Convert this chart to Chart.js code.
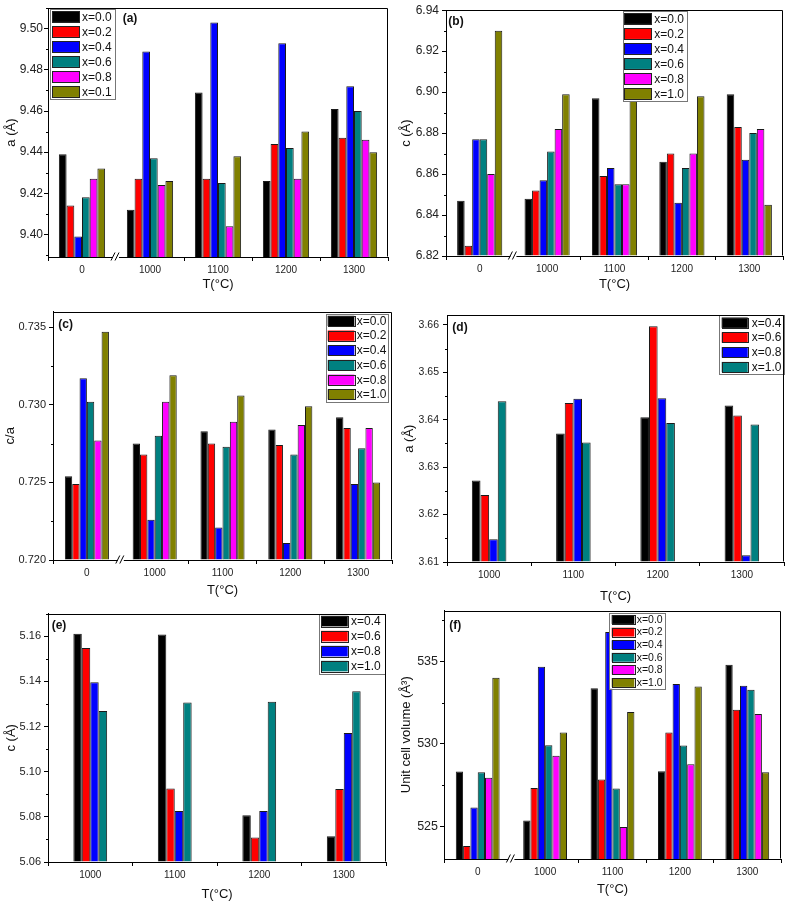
<!DOCTYPE html>
<html><head><meta charset="utf-8">
<script src="https://cdn.jsdelivr.net/npm/chart.js@4.4.0/dist/chart.umd.min.js"></script>
<style>
html,body{margin:0;padding:0;background:#fff;}
body{width:787px;height:903px;position:relative;overflow:hidden;}
canvas{position:absolute;}
</style></head><body>
<script>
// ---------- data ----------
const tempsWide = ['0', '1000', '1100', '1200', '1300'];
const tempsHigh = ['1000', '1100', '1200', '1300'];
const seriesSixA = ['x=0.0', 'x=0.2', 'x=0.4', 'x=0.6', 'x=0.8', 'x=0.1'];
const seriesSix = ['x=0.0', 'x=0.2', 'x=0.4', 'x=0.6', 'x=0.8', 'x=1.0'];
const seriesFour = ['x=0.4', 'x=0.6', 'x=0.8', 'x=1.0'];
const colorsSix = ['#000000', '#ff0000', '#0000ff', '#008080', '#ff00ff', '#808000'];
const colorsFour = ['#000000', '#ff0000', '#0000ff', '#008080'];

// (a) lattice a (Å): rows = composition, columns = temperature
const aValues = [
  [9.439, 9.412, 9.469, 9.426, 9.461],
  [9.414, 9.427, 9.427, 9.444, 9.447],
  [9.399, 9.489, 9.503, 9.493, 9.472],
  [9.418, 9.437, 9.425, 9.442, 9.460],
  [9.427, 9.424, 9.404, 9.427, 9.446],
  [9.432, 9.426, 9.438, 9.450, 9.440]
];
// (b) lattice c (Å)
const bValues = [
  [6.847, 6.848, 6.897, 6.866, 6.899],
  [6.825, 6.852, 6.859, 6.870, 6.883],
  [6.877, 6.857, 6.863, 6.846, 6.867],
  [6.877, 6.871, 6.855, 6.863, 6.880],
  [6.860, 6.882, 6.855, 6.870, 6.882],
  [6.930, 6.899, 6.896, 6.898, 6.845]
];
// (c) c/a
const cValues = [
  [0.7254, 0.7275, 0.7283, 0.7284, 0.7292],
  [0.7249, 0.7268, 0.7275, 0.7274, 0.7285],
  [0.7317, 0.7226, 0.7221, 0.7211, 0.7249],
  [0.7302, 0.7280, 0.7273, 0.7268, 0.7272],
  [0.7277, 0.7302, 0.7289, 0.7287, 0.7285],
  [0.7347, 0.7319, 0.7306, 0.7299, 0.7250]
];
// (d) a (Å)
const dValues = [
  [3.6272, 3.6371, 3.6405, 3.6430],
  [3.6241, 3.6435, 3.6597, 3.6409],
  [3.6148, 3.6444, 3.6445, 3.6114],
  [3.6439, 3.6352, 3.6393, 3.6390]
];
// (e) c (Å)
const eValues = [
  [5.1611, 5.1608, 5.0807, 5.0714],
  [5.1548, 5.0926, 5.0708, 5.0923],
  [5.1396, 5.0826, 5.0826, 5.1171],
  [5.1269, 5.1306, 5.1310, 5.1356]
];
// (f) unit cell volume (Å^3)
const fValues = [
  [528.31, 525.34, 533.38, 528.33, 534.80],
  [523.79, 527.32, 527.83, 530.68, 532.07],
  [526.13, 534.68, 536.80, 533.63, 533.53],
  [528.27, 529.91, 527.28, 529.89, 533.28],
  [527.93, 529.28, 524.94, 528.76, 531.81],
  [534.01, 530.68, 531.93, 533.48, 528.27]
];

// ---------- layout / style ----------
const FONT = '"Liberation Sans", Arial, sans-serif';
Chart.defaults.font.family = FONT;

const panels = [
  {tag:'(a)', cv:[0,0,393,297], plot:[48,7,388,257], cats:tempsWide, names:seriesSixA, colors:colorsSix, values:aValues,
   yMin:9.389, yMax:9.51, step:0.02, minor:0.01, dec:2, yTitle:'a (Å)', brk:true, catPct:0.68, yFont:12, ytPad:4, xtPad:4.6, yLabPad:1,
   tagPos:[74.7,10], legend:{x:2,y:1,w:65,rowH:15,swX:2,swW:27,txX:32,font:12}},
  {tag:'(b)', cv:[395,0,392,296], plot:[446,6,783,256], cats:tempsWide, names:seriesSix, colors:colorsSix, values:bValues,
   yMin:6.82, yMax:6.94, step:0.02, minor:0.01, dec:2, yTitle:'c (Å)', brk:true, catPct:0.67, yFont:12, ytPad:3.9, xtPad:3.6, yLabPad:3,
   tagPos:[2.3,11], legend:{x:176.7,y:1,w:64.3,rowH:15,swX:1.5,swW:27,txX:31.5,font:12}},
  {tag:'(c)', cv:[0,302,394,298], plot:[53,310,392,560], cats:tempsWide, names:seriesSix, colors:colorsSix, values:cValues,
   yMin:0.72, yMax:0.736, step:0.005, minor:0.0025, dec:3, yTitle:'c/a', brk:true, catPct:0.65, yFont:11, ytPad:2.2, xtPad:2.2, yLabPad:3,
   tagPos:[5.3,13.3], legend:{x:273,y:2,w:62,rowH:14.7,swX:1.7,swW:26.6,txX:30.7,font:12}},
  {tag:'(d)', cv:[395,305,392,302], plot:[447,313,784,562], cats:tempsHigh, names:seriesFour, colors:colorsFour, values:dValues,
   yMin:3.61, yMax:3.662, step:0.01, minor:0.005, dec:2, yTitle:'a (Å)', brk:false, catPct:0.41, yFont:10.5, ytPad:6.2, xtPad:3.2, yLabPad:4,
   tagPos:[5.3,12], legend:{x:272.3,y:0,w:64.7,rowH:14.8,swX:2.4,swW:26,txX:32.4,font:12}},
  {tag:'(e)', cv:[0,604,392,299], plot:[48,612,386,862], cats:tempsHigh, names:seriesFour, colors:colorsFour, values:eValues,
   yMin:5.06, yMax:5.17, step:0.02, minor:0.01, dec:2, yTitle:'c (Å)', brk:false, catPct:0.40, yFont:11, ytPad:3.9, xtPad:0.4, yLabPad:3,
   tagPos:[3.7,11.6], legend:{x:271,y:0,w:66,rowH:15,swX:2,swW:26.7,txX:32,font:12}},
  {tag:'(f)', cv:[395,601,392,302], plot:[444,609,781,859], cats:tempsWide, names:seriesSix, colors:colorsSix, values:fValues,
   yMin:523.0, yMax:538.1, step:5, minor:2.5, dec:0, yTitle:'Unit cell volume (Å³)', brk:true, catPct:0.65, yFont:12.5, ytPad:4, xtPad:6.2, yLabPad:2,
   tagPos:[5.3,15], legend:{x:165.3,y:2.7,w:55.7,rowH:12.6,swX:2.4,swW:22.6,txX:27.4,font:10.5}}
];

const decorPlugin = {
  id: 'decor',
  afterDatasetsDraw(chart, args, o) {
    const ctx = chart.ctx, ca = chart.chartArea, p = o.panel;
    ctx.save();
    // legend box
    const lg = p.legend;
    const n = chart.data.datasets.length;
    const bx = ca.left + lg.x, by = ca.top + lg.y, bh = lg.rowH * n;
    ctx.fillStyle = '#fff';
    ctx.fillRect(bx, by, lg.w, bh);
    ctx.strokeStyle = '#777';
    ctx.lineWidth = 1;
    ctx.strokeRect(Math.round(bx) + 0.5, Math.round(by) + 0.5, Math.round(lg.w), Math.round(bh));
    ctx.font = lg.font + 'px ' + FONT;
    ctx.textBaseline = 'middle';
    ctx.textAlign = 'left';
    chart.data.datasets.forEach((ds, i) => {
      const cy = by + lg.rowH * (i + 0.5);
      const sh = lg.rowH * 0.7;
      ctx.fillStyle = ds.backgroundColor;
      ctx.fillRect(bx + lg.swX, cy - sh / 2, lg.swW, sh);
      ctx.strokeStyle = '#222';
      ctx.strokeRect(Math.round(bx + lg.swX) + 0.5, Math.round(cy - sh / 2) + 0.5, Math.round(lg.swW), Math.round(sh));
      ctx.fillStyle = '#111';
      ctx.fillText(ds.label, bx + lg.txX, cy + 0.5);
    });
    // panel tag
    ctx.font = 'bold 12px ' + FONT;
    ctx.fillStyle = '#111';
    ctx.fillText(p.tag, ca.left + p.tagPos[0], ca.top + p.tagPos[1]);
    ctx.restore();
  },
  afterDraw(chart, args, o) {
    const ctx = chart.ctx, ca = chart.chartArea, p = o.panel;
    const ys = chart.scales.y, xs = chart.scales.x;
    ctx.save();
    ctx.strokeStyle = '#000';
    ctx.lineWidth = 1;
    // frame
    const l = Math.round(ca.left) + 0.5, t = Math.round(ca.top) + 0.5;
    const r = Math.round(ca.right) - 0.5, b = Math.round(ca.bottom) - 0.5;
    ctx.beginPath();
    ctx.moveTo(l, t); ctx.lineTo(r, t); ctx.lineTo(r, b);
    ctx.stroke();
    // minor y ticks
    ctx.beginPath();
    const start = Math.ceil(p.yMin / p.minor - 1e-6);
    for (let k = start; k * p.minor <= p.yMax + 1e-9; k++) {
      const v = k * p.minor;
      const rem = Math.abs(v / p.step - Math.round(v / p.step));
      if (rem < 1e-6) continue;
      const y = Math.round(ys.getPixelForValue(v)) + 0.5;
      ctx.moveTo(l - 2.5, y); ctx.lineTo(l, y);
    }
    ctx.stroke();
    // axis break
    if (p.brk) {
      const x = (xs.getPixelForValue(0) + xs.getPixelForValue(1)) / 2;
      const yb = Math.round(ca.bottom) - 0.5;
      ctx.fillStyle = '#fff';
      ctx.fillRect(x - 3, yb - 2, 6, 4);
      ctx.beginPath();
      ctx.moveTo(x - 5, yb + 4); ctx.lineTo(x - 1, yb - 4);
      ctx.moveTo(x - 1, yb + 4); ctx.lineTo(x + 3, yb - 4);
      ctx.stroke();
    }
    ctx.restore();
  }
};

panels.forEach((p, idx) => {
  const [cx, cy, cw, ch] = p.cv;
  const [L, T, R, B] = p.plot;
  const Wy = L - cx, pt = T - cy, pr = cx + cw - R, Hx = cy + ch - B;
  const cvs = document.createElement('canvas');
  cvs.width = cw; cvs.height = ch;
  cvs.style.left = cx + 'px'; cvs.style.top = cy + 'px';
  cvs.style.width = cw + 'px'; cvs.style.height = ch + 'px';
  document.body.appendChild(cvs);

  const datasets = p.names.map((name, i) => ({
    label: name,
    data: p.values[i],
    backgroundColor: p.colors[i],
    borderColor: '#1a1a1a',
    borderWidth: 1,
    base: p.yMin,
    barPercentage: 1.0,
    categoryPercentage: p.catPct
  }));

  new Chart(cvs, {
    type: 'bar',
    data: { labels: p.cats, datasets },
    options: {
      responsive: false,
      animation: false,
      devicePixelRatio: 1,
      layout: { padding: { left: 0, top: pt, right: pr, bottom: 0 } },
      plugins: { legend: { display: false }, tooltip: { enabled: false }, decor: { panel: p } },
      scales: {
        x: {
          type: 'category',
          offset: true,
          grid: {
            offset: true, drawOnChartArea: false, drawTicks: true, tickLength: 4,
            color: '#000',
            tickColor: (c) => (p.brk && c.index === 1) ? 'rgba(0,0,0,0)' : '#000'
          },
          border: { color: '#000', width: 1 },
          ticks: { font: { size: 10, family: FONT }, color: '#222', padding: 3, maxRotation: 0, autoSkip: false },
          title: { display: true, text: 'T(°C)', color: '#111', font: { size: 13, family: FONT }, padding: { top: 0, bottom: p.xtPad } },
          afterFit: (s) => { s.height = Hx; }
        },
        y: {
          type: 'linear',
          min: p.yMin, max: p.yMax,
          grid: { drawOnChartArea: false, drawTicks: true, tickLength: 4, color: '#000' },
          border: { color: '#000', width: 1 },
          ticks: {
            stepSize: p.step, includeBounds: false, color: '#222', padding: p.yLabPad,
            font: { size: p.yFont, family: FONT },
            callback: (v) => Number(v).toFixed(p.dec)
          },
          title: { display: true, text: p.yTitle, color: '#111', font: { size: 13, family: FONT }, padding: { top: p.ytPad, bottom: 0 } },
          afterFit: (s) => { s.width = Wy; }
        }
      }
    },
    plugins: [decorPlugin]
  });
});
</script>
</body></html>
